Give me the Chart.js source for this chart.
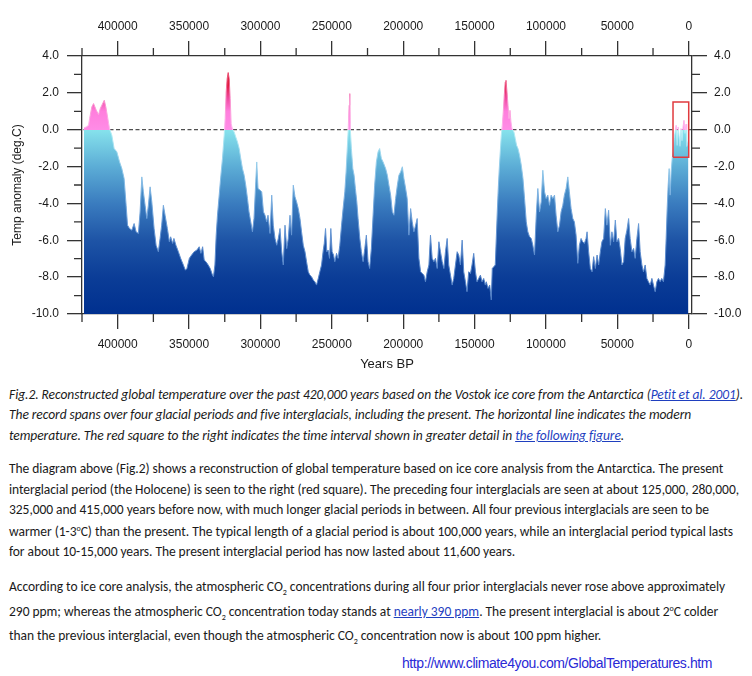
<!DOCTYPE html>
<html>
<head>
<meta charset="utf-8">
<title>Vostok ice core temperature</title>
<script src="https://cdn.jsdelivr.net/npm/chart.js@4.4.1/dist/chart.umd.min.js"></script>
<style>
  html, body { margin: 0; padding: 0; background: #fff; }
  #page { position: relative; width: 752px; height: 676px; overflow: hidden; }
  #chart { position: absolute; left: 0; top: 0; }
  .ln { position: absolute; left: 9px; white-space: nowrap; font-family: Carlito, Calibri, Lato, sans-serif;
        font-size: 13.5px; line-height: 20px; color: #1a1a1a; }
  .ln.cap { font-style: italic; }
  .ln a { color: #1f3fbf; text-decoration: underline; }
  .ln sup, .ln sub { font-size: 8px; line-height: 0; }
  #url { left: 402px; font-family: "Liberation Sans Narrow", "Arial Narrow", "Liberation Sans", sans-serif;
         font-size: 14px; color: #2a2ad6; }
</style>
</head>
<body>
<div id="page">
  <canvas id="chart" width="752" height="380"></canvas>

  <div class="ln cap" data-w="734" style="top:385px">Fig.2. Reconstructed global temperature over the past 420,000 years based on the Vostok ice core from the Antarctica (<a>Petit et al. 2001</a>).</div>
  <div class="ln cap" data-w="682" style="top:405px">The record spans over four glacial periods and five interglacials, including the present. The horizontal line indicates the modern</div>
  <div class="ln cap" data-w="615" style="top:426px">temperature. The red square to the right indicates the time interval shown in greater detail in <a>the following figure</a>.</div>

  <div class="ln" data-w="714" style="top:459px">The diagram above (Fig.2) shows a reconstruction of global temperature based on ice core analysis from the Antarctica. The present</div>
  <div class="ln" data-w="730" style="top:480px">interglacial period (the Holocene) is seen to the right (red square). The preceding four interglacials are seen at about 125,000, 280,000,</div>
  <div class="ln" data-w="700" style="top:500px">325,000 and 415,000 years before now, with much longer glacial periods in between. All four previous interglacials are seen to be</div>
  <div class="ln" data-w="724" style="top:522px">warmer (1-3<sup>o</sup>C) than the present. The typical length of a glacial period is about 100,000 years, while an interglacial period typical lasts</div>
  <div class="ln" data-w="506" style="top:542px">for about 10-15,000 years. The present interglacial period has now lasted about 11,600 years.</div>

  <div class="ln" data-w="716" style="top:577px">According to ice core analysis, the atmospheric CO<sub>2</sub> concentrations during all four prior interglacials never rose above approximately</div>
  <div class="ln" data-w="709" style="top:602px">290 ppm; whereas the atmospheric CO<sub>2</sub> concentration today stands at <a>nearly 390 ppm</a>. The present interglacial is about 2<sup>o</sup>C colder</div>
  <div class="ln" data-w="592" style="top:626px">than the previous interglacial, even though the atmospheric CO<sub>2</sub> concentration now is about 100 ppm higher.</div>

  <div class="ln" id="url" data-w="310" style="top:653px">http://www.climate4you.com/GlobalTemperatures.htm</div>
</div>

<script>
// Vostok ice core: temperature anomaly (deg C) against years before present

const years = [
  423600,
  422000, 420400, 419700, 418100, 416900, 415000, 413400, 412200, 411100, 409400,
  408300, 407100, 405700, 404100, 402500, 400600, 398700, 397100, 395500, 394100,
  393100, 391700, 390100, 388500, 387100, 385500, 384300, 383100, 382000, 380800,
  379600, 378500, 377300, 376100, 374500, 373100, 371500, 370300, 369200, 368000,
  366800, 365200, 363800, 362900, 361500, 360600, 359200, 357500, 355900, 354000,
  352600,
  351500, 349800, 348200, 346400, 344500, 342900, 341700, 340500, 339400, 338200,
  336600, 335200, 333600, 332900, 331900, 331000, 330100, 328900, 327700, 326600,
  325400, 324700, 324000, 323300, 322600, 321900, 321200, 320500, 319600, 318400,
  317300, 316100, 314900, 313800, 312600, 311400, 310300, 309100, 308000, 306800,
  305600, 304500, 303300, 302600, 301700, 300300, 299100, 297900, 296800, 295600,
  294700, 293300, 292100, 291000, 289800, 288600, 287500, 286300, 285100, 284000,
  282800,
  281600, 280500, 279300, 278200, 277000, 275800, 274700, 273500, 272300, 271200,
  270000, 268800, 267700, 266500, 265400, 264200, 263000, 261900, 260700, 259500,
  258400, 257200, 256000, 255300, 254400, 253500, 252600, 251600, 250700, 249800,
  248800, 247900, 246700, 245600, 244400, 243200, 242100, 240900, 240000, 239300,
  238600, 237900, 237400, 237000, 236300, 235300, 234400, 233500, 232500, 231600,
  230400, 229300, 228100, 226900, 225800, 224600, 223500, 222300, 221100, 220000,
  218800, 217600, 216500, 215300, 214100,
  212300, 211100, 210000, 208800, 207600, 206500, 205300, 204100, 203000, 201800,
  200600, 199500, 198300, 197200, 196000, 194800, 193700, 192500, 191300, 190200,
  189000, 187800, 186700, 185500, 184400, 183200, 182000, 180900, 179700, 178500,
  177400, 176200, 175000, 173900, 172700, 171500, 170400, 169200, 168100, 166900,
  165700, 164600, 163400, 162200, 161100, 159900, 158700, 157600, 156400, 155300,
  154100, 152900, 151800, 150600, 149400, 148300, 147100, 145900, 144800, 143600,
  142500,
  141800, 140600, 139400, 138300, 137600, 136600, 135500, 134800, 134100, 133400,
  132700, 132000, 131300, 130600, 129900, 129200, 128500, 128000, 127300, 126600,
  125900, 125200, 124500, 123800, 123100, 122400, 121500, 120600, 119600, 118500,
  117300, 116100, 115000, 113800, 112700, 111500, 110300, 109200, 108000, 106800,
  105700, 104500, 103300, 102200, 101000, 99900, 98700, 97500, 96400, 95200,
  94000, 92900, 91700, 90500, 89400, 88200, 87100, 85900, 84700, 83600,
  82400, 81200, 80100, 78900, 77700, 76600, 75400, 74300, 73100, 71900,
  71200, 70100, 68900, 67700, 66600, 65400, 64200, 63100, 61900, 60800,
  59600, 58400, 57300, 56100, 54900, 53800, 52600, 51400, 50300, 49100,
  48000, 46800, 45600, 44500, 43300, 42100, 41000, 39800, 38600, 37500,
  36300, 35100, 34000, 32800, 31700, 30500, 29300, 28200, 27000, 25800,
  24700, 23500, 22300, 21200, 20000, 18900, 17700, 16500, 15800, 15100,
  14400, 13700, 13000, 12300, 11600, 10900, 10200, 9500, 8800, 8100,
  7400, 6800, 6100, 5400, 4700, 4000, 3300, 2600, 1900, 1400,
  200
];

const temps = [
  0.10,
  0.15, 0.24, 0.60, 1.24, 1.42, 1.06, 0.82, 1.15, 1.33, 1.60,
  1.24, 0.69, 0.06, -0.30, -1.02, -1.20, -1.74, -2.11, -2.65, -4.10,
  -5.18, -5.36, -5.45, -5.09, -5.54, -5.63, -4.46, -2.56, -3.37, -4.10,
  -4.82, -4.10, -3.10, -3.91, -5.36, -6.27, -6.62, -5.90, -5.18, -4.10,
  -4.64, -5.36, -6.08, -5.81, -6.17, -5.90, -6.27, -6.62, -6.98, -7.34,
  -7.62,
  -7.53, -6.98, -6.80, -6.62, -6.53, -6.35, -6.71, -6.35, -7.07, -7.16,
  -7.34, -7.53, -7.89, -7.98, -7.34, -5.72, -4.64, -3.55, -2.47, -1.56,
  -0.30, 0.60, 2.05, 2.77, 3.10, 2.77, 1.69, 0.33, 0.03, -0.12,
  -0.39, -0.66, -1.02, -1.56, -2.11, -2.47, -3.01, -3.73, -4.46, -5.00,
  -5.54, -4.82, -2.83, -1.75, -3.19, -3.28, -3.37, -4.46, -4.64, -5.00,
  -4.64, -5.63, -3.55, -5.18, -5.90, -6.27, -5.90, -5.36, -6.62, -7.34,
  -5.18,
  -6.45, -5.90, -4.64, -5.72, -3.01, -3.64, -3.91, -4.28, -4.82, -5.54,
  -6.27, -6.62, -7.16, -7.71, -7.89, -7.98, -8.16, -8.25, -8.43, -8.07,
  -7.71, -7.34, -6.53, -6.17, -5.36, -6.62, -6.53, -6.98, -5.36, -6.62,
  -6.80, -7.16, -6.71, -6.98, -6.27, -5.18, -4.28, -3.37, -2.29, -1.20,
  -0.12, 1.33, 1.96, -0.03, -1.02, -2.11, -2.47, -3.19, -3.91, -4.82,
  -5.90, -6.62, -7.16, -6.45, -5.72, -7.16, -7.53, -6.45, -4.64, -3.01,
  -1.75, -1.20, -1.02, -1.56, -1.75,
  -2.11, -2.47, -3.01, -3.55, -4.46, -4.64, -3.73, -3.01, -2.47, -2.29,
  -2.01, -2.65, -3.19, -3.73, -5.72, -4.28, -5.00, -5.54, -5.18, -4.82,
  -6.98, -7.71, -7.80, -7.89, -8.25, -7.71, -7.34, -5.72, -6.98, -7.16,
  -6.98, -7.53, -6.08, -6.62, -7.16, -7.53, -6.62, -5.90, -7.34, -7.89,
  -8.43, -8.07, -7.34, -6.62, -6.80, -7.34, -5.99, -7.71, -8.25, -8.79,
  -7.71, -7.80, -7.34, -6.71, -7.71, -8.25, -8.07, -7.89, -8.25, -8.07,
  -8.43,
  -8.25, -8.61, -8.43, -9.24, -7.53, -7.44, -7.34, -5.90, -4.46, -3.19,
  -2.11, -1.20, -0.30, 0.24, 0.96, 1.87, 2.59, 2.68, 2.05, 1.33,
  0.60, 1.05, 0.42, 0.06, -0.03, -0.12, -0.48, -0.84, -1.02, -1.38,
  -1.92, -2.65, -3.73, -5.00, -5.54, -5.81, -5.90, -6.27, -6.80, -4.64,
  -3.19, -4.46, -3.91, -2.20, -3.37, -3.73, -3.55, -4.10, -3.55, -3.73,
  -3.55, -4.64, -5.54, -5.18, -4.46, -4.10, -3.55, -3.19, -2.56, -3.37,
  -4.28, -4.82, -5.00, -5.72, -7.25, -6.27, -5.90, -6.08, -6.17, -5.90,
  -5.54, -6.62, -7.53, -7.71, -6.89, -7.53, -6.80, -7.34, -6.62, -6.08,
  -5.90, -4.28, -5.18, -4.37, -6.27, -5.54, -6.08, -4.90, -6.08, -5.90,
  -6.44, -7.34, -7.16, -5.90, -5.45, -4.82, -5.90, -6.62, -6.44, -6.98,
  -5.90, -5.09, -6.62, -7.34, -7.71, -7.34, -8.07, -8.25, -8.43, -8.07,
  -8.43, -8.79, -8.25, -8.07, -8.25, -8.07, -8.25, -7.34, -5.90, -4.28,
  -3.01, -2.11, -3.55, -2.29, -1.56, -1.20, -0.48, -0.12, 0.24, -0.85,
  0.15, -0.30, -0.90, 0.06, -0.60, 0.15, 0.51, -0.20, 0.30, -0.90,
  -0.60
];

// axis ticks
const yearTicks      = [400000, 350000, 300000, 250000, 200000, 150000, 100000, 50000, 0];
const yearMinorTicks = [425000, 375000, 325000, 275000, 225000, 175000, 125000, 75000, 25000];
const tempTicks      = [4, 2, 0, -2, -4, -6, -8, -10];
const tempMinorTicks = [3, 1, -1, -3, -5, -7, -9];

// modern temperature reference line and the Holocene box (red square)
const zeroYears = [-2300, 425000];
const zeroTemps = [0, 0];
const boxYears  = [11000, 0, 0, 11000, 11000];
const boxTemps  = [-1.5, -1.5, 1.5, 1.5, -1.5];

const pts = (xs, ys) => xs.map((x, i) => ({ x, y: ys[i] }));

/* ──────────────────────────────────────────────────────────────
   Colour ramp: navy at -10, cyan at 0, pink above, red at top
   ────────────────────────────────────────────────────────────── */
const fillStops = [
  [-10, "#00308f"], [-8, "#0b3d97"], [-6, "#1e54a6"], [-4, "#3a7cbf"], [-2, "#5cadd6"],
  [-0.01, "#86e2ec"], [0, "#ff8ce6"], [1, "#ff7edd"], [1.7, "#f04aa0"], [2.4, "#e21c40"], [3.2, "#d4001a"]
];
const edgeStops = [
  [-10, "#4a78c0"], [-6, "#5f8fd0"], [-3, "#82b8e4"], [-0.01, "#b5f0f6"],
  [0, "#ffb8f0"], [1.7, "#f890cc"], [3.2, "#e84060"]
];

function ramp(chart, stops) {
  const { ctx, chartArea, scales } = chart;
  if (!chartArea) return null;
  const y0 = scales.y.getPixelForValue(-10);
  const y1 = scales.y.getPixelForValue(3.2);
  const g = ctx.createLinearGradient(0, y0, 0, y1);
  stops.forEach(([v, c]) => g.addColorStop((v + 10) / 13.2, c));
  return g;
}

/* ──────────────────────────────────────────────────────────────
   Short minor ticks on all four sides
   ────────────────────────────────────────────────────────────── */
const minorTicks = {
  id: "minorTicks",
  afterDraw(chart) {
    const { ctx, chartArea: a, scales } = chart;
    ctx.save();
    ctx.strokeStyle = "#333";
    ctx.lineWidth = 1.3;
    ctx.beginPath();
    yearMinorTicks.forEach(v => {
      const px = scales.x.getPixelForValue(v);
      ctx.moveTo(px, a.top);    ctx.lineTo(px, a.top - 8);
      ctx.moveTo(px, a.bottom); ctx.lineTo(px, a.bottom + 8);
    });
    tempMinorTicks.forEach(v => {
      const py = scales.y.getPixelForValue(v);
      ctx.moveTo(a.left, py);  ctx.lineTo(a.left - 8, py);
      ctx.moveTo(a.right, py); ctx.lineTo(a.right + 8, py);
    });
    ctx.stroke();
    ctx.restore();
  }
};

const axisFont = { family: "'Liberation Sans', Arial, sans-serif", size: 12 };
const axisGrid = { drawOnChartArea: false, tickLength: 15, color: "#333", lineWidth: 1.3 };
const axisBorder = { display: true, color: "#333", width: 1.3 };

function yearAxis(position, height, pad, title) {
  return {
    type: "linear", position, reverse: true, min: -2300, max: 425000,
    afterBuildTicks: s => { s.ticks = yearTicks.map(v => ({ value: v })); },
    afterFit: s => { s.height = height; },
    ticks: { color: "#1a1a1a", font: axisFont, padding: pad, maxRotation: 0, autoSkip: false, callback: v => String(v) },
    grid: axisGrid, border: axisBorder,
    title: title
      ? { display: true, text: title, color: "#1a1a1a", font: { family: axisFont.family, size: 13 }, padding: { top: 0, bottom: 8 } }
      : { display: false }
  };
}

function tempAxis(position, width, pad, title) {
  return {
    type: "linear", position, min: -10, max: 4,
    afterBuildTicks: s => { s.ticks = tempTicks.map(v => ({ value: v })); },
    afterFit: s => { s.width = width; },
    ticks: { color: "#1a1a1a", font: axisFont, padding: pad, autoSkip: false, callback: v => v.toFixed(1) },
    grid: axisGrid, border: axisBorder,
    title: title
      ? { display: true, text: title, color: "#1a1a1a", font: axisFont, padding: { top: 10, bottom: 0 } }
      : { display: false }
  };
}

new Chart(document.getElementById("chart"), {
  type: "line",
  data: {
    datasets: [
      {
        label: "Holocene window",
        data: pts(boxYears, boxTemps),
        borderColor: "#e03a3e", borderWidth: 1.5,
        fill: false, pointRadius: 0, tension: 0, order: 0
      },
      {
        label: "Temperature anomaly",
        data: pts(years, temps),
        fill: "start",
        backgroundColor: c => ramp(c.chart, fillStops),
        borderColor: c => ramp(c.chart, edgeStops),
        borderWidth: 1,
        pointRadius: 0, tension: 0, order: 1
      },
      {
        label: "Modern temperature",
        data: pts(zeroYears, zeroTemps),
        borderColor: "#222", borderWidth: 1, borderDash: [4, 2.5],
        fill: false, pointRadius: 0, tension: 0, order: 2
      }
    ]
  },
  options: {
    responsive: false,
    animation: false,
    events: [],
    layout: { padding: 0 },
    plugins: { legend: { display: false }, tooltip: { enabled: false } },
    scales: {
      x:  yearAxis("bottom", 66, 8, "Years BP"),
      x2: yearAxis("top", 56, 7, null),
      y:  tempAxis("left", 82, 8, "Temp anomaly (deg.C)"),
      y2: tempAxis("right", 60, 7, null)
    }
  },
  plugins: [minorTicks]
});

/* ──────────────────────────────────────────────────────────────
   Stretch each text line to the width it has in the original
   ────────────────────────────────────────────────────────────── */
function fitLines() {
  document.querySelectorAll(".ln[data-w]").forEach(el => {
    el.style.letterSpacing = "0px";
    const target = +el.dataset.w;
    const w = el.getBoundingClientRect().width;
    const n = el.textContent.length;
    el.style.letterSpacing = ((target - w) / n).toFixed(3) + "px";
  });
}
fitLines();
if (document.fonts) document.fonts.ready.then(fitLines);
</script>
</body>
</html>
